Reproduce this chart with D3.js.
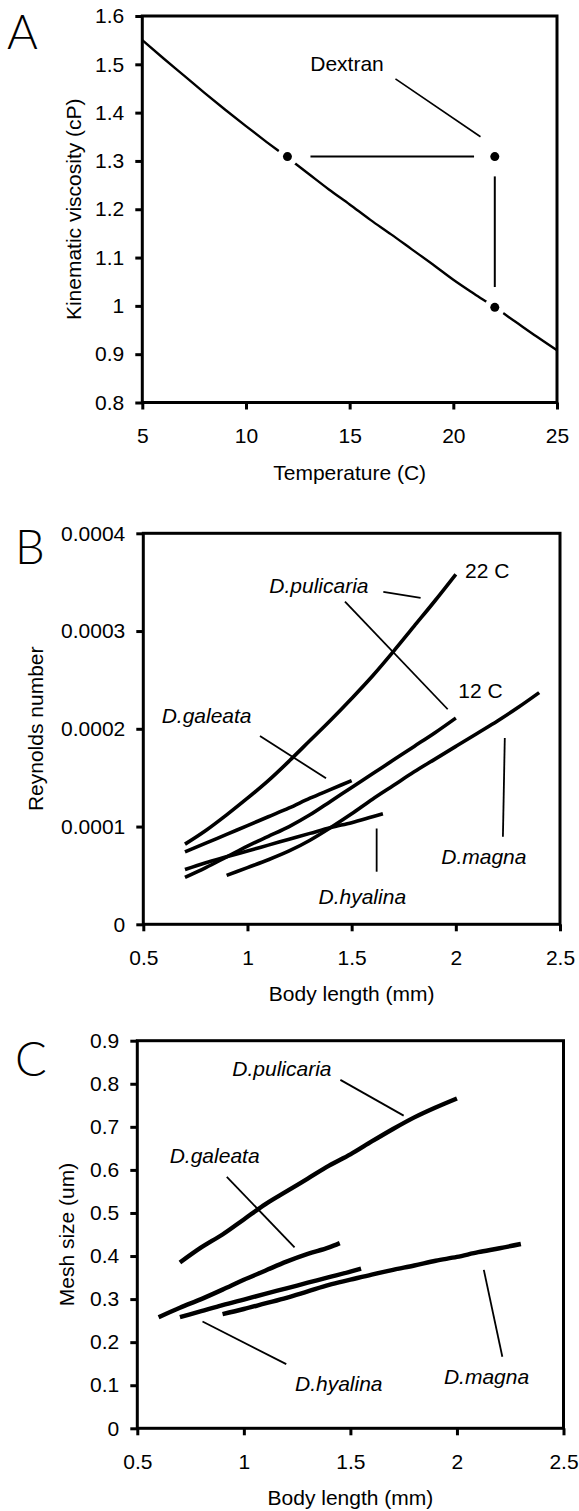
<!DOCTYPE html>
<html>
<head>
<meta charset="utf-8">
<script src="https://cdn.jsdelivr.net/npm/d3@7"></script>
<style>
  body { margin: 0; background: #fff; }
  svg { display: block; font-family: "Liberation Sans", Arial, sans-serif; }
</style>
</head>
<body>
<svg width="579" height="1511"></svg>
<script>
// ---- Panel A: viscosity vs temperature
const tempC = [5, 6, 7, 8, 9, 10, 11, 12, 13, 14, 15, 16, 17, 18, 19, 20, 21, 22, 23, 24, 25];
const viscosity = [1.550, 1.513, 1.477, 1.441, 1.406, 1.372, 1.339, 1.307, 1.274, 1.241, 1.210,
    1.178, 1.148, 1.117, 1.086, 1.054, 1.025, 0.997, 0.967, 0.937, 0.908];
const dextranDots = [[12, 1.309], [22, 1.309], [22, 0.997]];
const dextranLinks = [[[13.11, 1.309], [21.0, 1.309]], [[22, 1.268], [22, 1.039]]];
const tempTicks = [5, 10, 15, 20, 25];
const tempLabels = ["5", "10", "15", "20", "25"];
const viscTicks = [0.8, 0.9, 1.0, 1.1, 1.2, 1.3, 1.4, 1.5, 1.6];
const viscLabels = ["0.8", "0.9", "1", "1.1", "1.2", "1.3", "1.4", "1.5", "1.6"];

// ---- Panel B: Reynolds number (in units of 0.0001) vs body length
const lenPul = [0.7, 0.8, 0.9, 1.0, 1.1, 1.2, 1.3, 1.4, 1.5, 1.6, 1.7, 1.8, 1.9, 2.0];
const rePul22 = [0.82, 0.96, 1.12, 1.29, 1.47, 1.67, 1.88, 2.09, 2.31, 2.54, 2.79, 3.05, 3.31, 3.58];
const rePul12 = [0.48, 0.58, 0.69, 0.80, 0.90, 1.00, 1.12, 1.26, 1.40, 1.54, 1.68, 1.82, 1.96, 2.11];
const lenGal = [0.7, 0.8, 0.9, 1.0, 1.1, 1.2, 1.3, 1.4, 1.5];
const reGal = [0.74, 0.83, 0.92, 1.01, 1.10, 1.19, 1.29, 1.38, 1.47];
const lenHya = [0.7, 0.8, 0.9, 1.0, 1.1, 1.2, 1.3, 1.4, 1.5, 1.6, 1.65];
const reHya = [0.56, 0.63, 0.69, 0.75, 0.81, 0.87, 0.93, 0.99, 1.04, 1.10, 1.13];
const lenMag = [0.9, 1.0, 1.1, 1.2, 1.3, 1.4, 1.5, 1.6, 1.7, 1.8, 1.9, 2.0, 2.1, 2.2, 2.3, 2.4];
const reMag = [0.50, 0.58, 0.66, 0.75, 0.86, 0.99, 1.13, 1.28, 1.42, 1.56, 1.69, 1.82, 1.95, 2.08, 2.22, 2.37];
const reTicks = [0, 1, 2, 3, 4];
const reLabels = ["0", "0.0001", "0.0002", "0.0003", "0.0004"];

// ---- Panel C: mesh size vs body length
const lenPulC = [0.7, 0.8, 0.9, 1.0, 1.1, 1.2, 1.3, 1.4, 1.5, 1.6, 1.7, 1.8, 1.9, 2.0];
const meshPul = [0.385, 0.42, 0.45, 0.485, 0.52, 0.55, 0.58, 0.61, 0.636, 0.666, 0.695, 0.722, 0.745, 0.766];
const lenGalC = [0.6, 0.7, 0.8, 0.9, 1.0, 1.1, 1.2, 1.3, 1.4, 1.45];
const meshGal = [0.258, 0.28, 0.30, 0.322, 0.345, 0.366, 0.387, 0.405, 0.42, 0.43];
const lenHyaC = [0.7, 0.8, 0.9, 1.0, 1.1, 1.2, 1.3, 1.4, 1.5, 1.55];
const meshHya = [0.258, 0.272, 0.286, 0.299, 0.312, 0.325, 0.338, 0.351, 0.364, 0.371];
const lenMagC = [0.9, 1.0, 1.1, 1.2, 1.3, 1.4, 1.5, 1.6, 1.7, 1.8, 1.9, 2.0, 2.1, 2.2, 2.3];
const meshMag = [0.265, 0.277, 0.29, 0.303, 0.318, 0.333, 0.345, 0.357, 0.368, 0.378, 0.389, 0.398, 0.409, 0.418, 0.428];
const meshTicks = [0, 0.1, 0.2, 0.3, 0.4, 0.5, 0.6, 0.7, 0.8, 0.9];
const meshLabels = ["0", "0.1", "0.2", "0.3", "0.4", "0.5", "0.6", "0.7", "0.8", "0.9"];

const lenTicks = [0.5, 1, 1.5, 2, 2.5];
const lenLabels = ["0.5", "1", "1.5", "2", "2.5"];

// labels and leader lines, in data units
const notesA = [{ text: "Dextran", at: [13.1, 1.487], italic: false }];
const leadersA = [[[17.21, 1.470], [21.31, 1.350]]];
const notesB = [
    { text: "22 C", at: [2.044, 3.54], italic: false },
    { text: "12 C", at: [2.012, 2.32], italic: false },
    { text: "D.pulicaria", at: [1.105, 3.386], italic: true },
    { text: "D.galeata", at: [0.588, 2.056], italic: true },
    { text: "D.hyalina", at: [1.341, 0.208], italic: true },
    { text: "D.magna", at: [1.930, 0.616], italic: true }
];
const leadersB = [
    [[1.652, 3.40], [1.831, 3.34]],
    [[1.468, 3.30], [1.961, 2.20]],
    [[1.06, 1.926], [1.377, 1.494]],
    [[1.620, 0.98], [1.620, 0.538]],
    [[2.235, 1.906], [2.226, 0.895]]
];
const notesC = [
    { text: "D.pulicaria", at: [0.946, 0.817], italic: true },
    { text: "D.galeata", at: [0.652, 0.615], italic: true },
    { text: "D.hyalina", at: [1.240, 0.0875], italic: true },
    { text: "D.magna", at: [1.939, 0.103], italic: true }
];
const leadersC = [
    [[1.453, 0.809], [1.750, 0.726]],
    [[0.920, 0.584], [1.238, 0.420]],
    [[0.806, 0.248], [1.199, 0.149]],
    [[2.126, 0.368], [2.213, 0.166]]
];

const svg = d3.select("svg");
const FS = 21;

function panel(lay, opt) {
    const x = d3.scaleLinear().domain(opt.xDomain).range([lay.left, lay.right]);
    const y = d3.scaleLinear().domain(opt.yDomain).range([lay.bottom, lay.top]);
    const g = svg.append("g");

    const xl = new Map(opt.xTicks.map((v, i) => [v, opt.xLabels[i]]));
    const yl = new Map(opt.yTicks.map((v, i) => [v, opt.yLabels[i]]));

    g.append("g")
        .attr("transform", `translate(0,${lay.bottom})`)
        .call(d3.axisBottom(x).tickValues(opt.xTicks).tickFormat(d => xl.get(d)).tickSize(7).tickPadding(19))
        .call(a => a.select(".domain").remove());
    g.append("g")
        .attr("transform", `translate(${lay.left},0)`)
        .call(d3.axisLeft(y).tickValues(opt.yTicks).tickFormat(d => yl.get(d)).tickSize(7).tickPadding(11))
        .call(a => a.select(".domain").remove());
    // let the axis text use the page font
    g.selectAll("g").attr("font-family", null).attr("font-size", null);
    g.selectAll(".tick line").attr("stroke", "#000").attr("stroke-width", 3);
    g.selectAll(".tick text").attr("font-size", FS).attr("fill", "#000");

    g.append("text")
        .attr("x", (lay.left + lay.right) / 2)
        .attr("y", lay.bottom + 77)
        .attr("text-anchor", "middle")
        .attr("font-size", FS)
        .text(opt.xTitle);
    g.append("text")
        .attr("transform", `translate(${lay.yTitleX},${(lay.top + lay.bottom) / 2}) rotate(-90)`)
        .attr("text-anchor", "middle")
        .attr("font-size", FS)
        .text(opt.yTitle);
    g.append("text")
        .attr("x", lay.letterX)
        .attr("y", lay.letterY)
        .attr("font-family", "Lato, 'DejaVu Sans', sans-serif")
        .attr("font-weight", 300)
        .attr("font-size", 47)
        .text(opt.letter);

    const marks = g.append("g");
    const line = d3.line().x(d => x(d[0])).y(d => y(d[1]));
    const smooth = d3.line().x(d => x(d[0])).y(d => y(d[1])).curve(d3.curveMonotoneX);

    g.append("rect")
        .attr("x", lay.left).attr("y", lay.top)
        .attr("width", lay.right - lay.left).attr("height", lay.bottom - lay.top)
        .attr("fill", "none").attr("stroke", "#000").attr("stroke-width", 3);

    return { x, y, marks, line, smooth };
}

function curves(p, series, width) {
    p.marks.selectAll(null)
        .data(series)
        .join("path")
        .attr("d", d => p.smooth(d3.zip(d[0], d[1])))
        .attr("fill", "none")
        .attr("stroke", "#000")
        .attr("stroke-width", width)
        .attr("stroke-linejoin", "round");
}

function notes(p, labels, leaders, lw) {
    p.marks.selectAll(null)
        .data(leaders)
        .join("path")
        .attr("d", d => p.line(d))
        .attr("stroke", "#000")
        .attr("stroke-width", lw);
    p.marks.selectAll(null)
        .data(labels)
        .join("text")
        .attr("x", d => p.x(d.at[0]))
        .attr("y", d => p.y(d.at[1]))
        .attr("font-size", FS)
        .attr("font-style", d => d.italic ? "italic" : null)
        .text(d => d.text);
}

// A
const pA = panel({ left: 142.3, right: 557, top: 16, bottom: 402.5, letterX: 7, letterY: 49, yTitleX: 81 }, {
    xDomain: [5, 25], yDomain: [0.8, 1.6],
    xTicks: tempTicks, xLabels: tempLabels, yTicks: viscTicks, yLabels: viscLabels,
    xTitle: "Temperature (C)", yTitle: "Kinematic viscosity (cP)", letter: "A"
});
curves(pA, [[tempC, viscosity]], 2.4);
pA.marks.selectAll(null).data(dextranDots).join("circle")
    .attr("cx", d => pA.x(d[0])).attr("cy", d => pA.y(d[1]))
    .attr("r", 10.5).attr("fill", "#fff");
pA.marks.selectAll(null).data(dextranDots).join("circle")
    .attr("cx", d => pA.x(d[0])).attr("cy", d => pA.y(d[1]))
    .attr("r", 4.5).attr("fill", "#000");
pA.marks.selectAll(null).data(dextranLinks).join("path")
    .attr("d", d => pA.line(d)).attr("stroke", "#000").attr("stroke-width", 2);
notes(pA, notesA, leadersA, 1.6);

// B
const pB = panel({ left: 143.3, right: 560, top: 533.3, bottom: 924.3, letterX: 15, letterY: 564, yTitleX: 43 }, {
    xDomain: [0.5, 2.5], yDomain: [0, 4],
    xTicks: lenTicks, xLabels: lenLabels, yTicks: reTicks, yLabels: reLabels,
    xTitle: "Body length (mm)", yTitle: "Reynolds number", letter: "B"
});
curves(pB, [[lenPul, rePul22], [lenPul, rePul12], [lenGal, reGal], [lenHya, reHya], [lenMag, reMag]], 3.6);
notes(pB, notesB, leadersB, 1.8);

// C
const pC = panel({ left: 137.3, right: 563.5, top: 1040.7, bottom: 1428.3, letterX: 15, letterY: 1076, yTitleX: 74 }, {
    xDomain: [0.5, 2.5], yDomain: [0, 0.9],
    xTicks: lenTicks, xLabels: lenLabels, yTicks: meshTicks, yLabels: meshLabels,
    xTitle: "Body length (mm)", yTitle: "Mesh size (um)", letter: "C"
});
curves(pC, [[lenPulC, meshPul], [lenGalC, meshGal], [lenHyaC, meshHya], [lenMagC, meshMag]], 4.4);
notes(pC, notesC, leadersC, 1.8);
</script>
</body>
</html>
